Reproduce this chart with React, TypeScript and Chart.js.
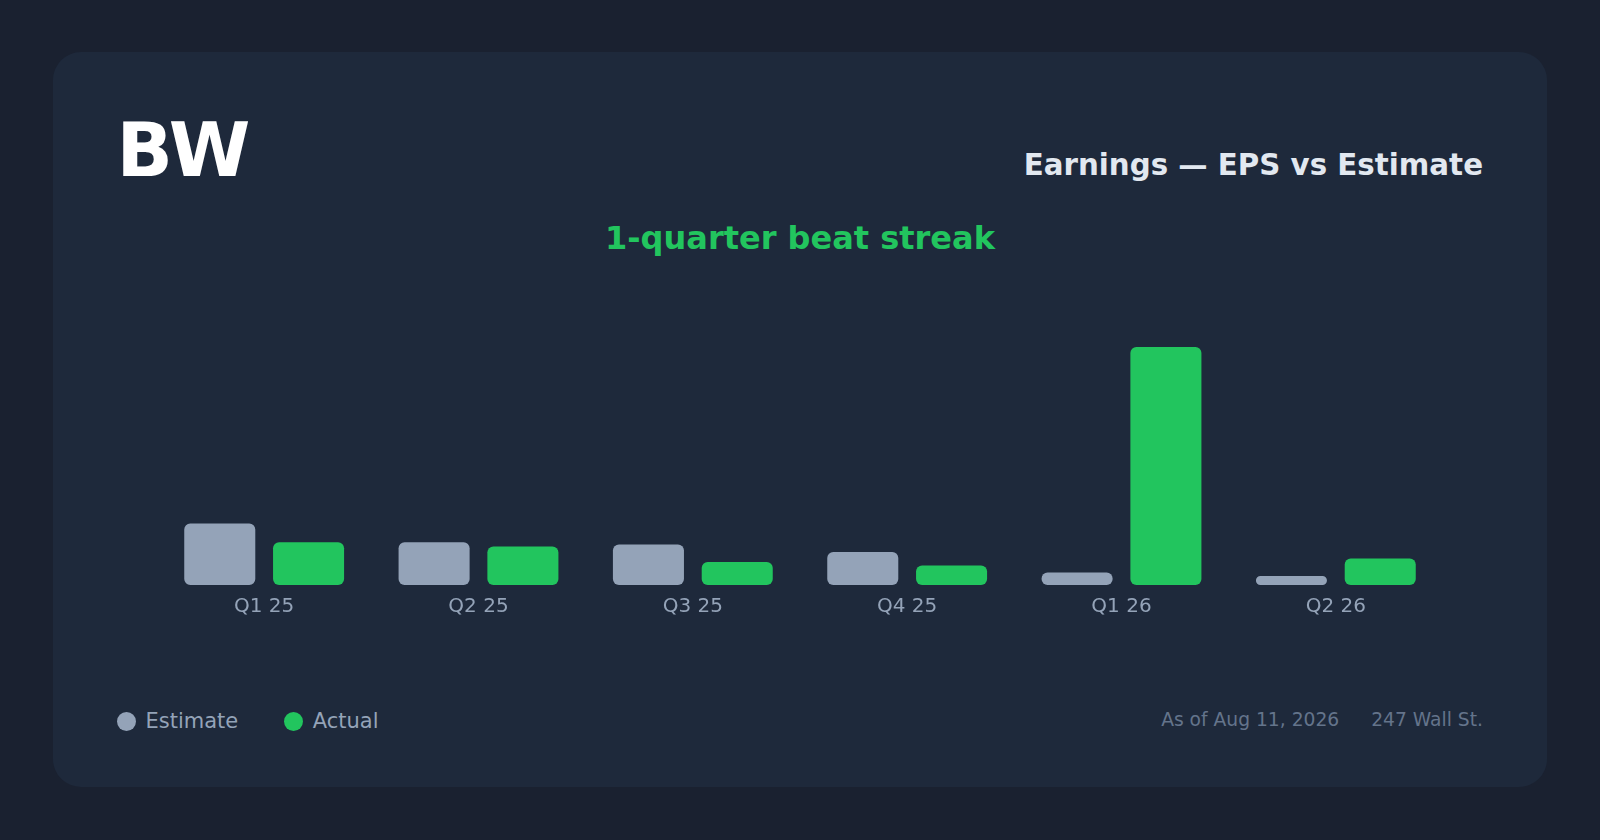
import React, { useEffect, useRef } from "react";
import { Chart, registerables } from "chart.js";

Chart.register(...registerables);

const categories = ["Q1 25", "Q2 25", "Q3 25", "Q4 25", "Q1 26", "Q2 26"];
const estimateValues = [0.088, 0.061, 0.058, 0.047, 0.018, 0.013];
const actualValues = [0.061, 0.055, 0.033, 0.028, 0.34, 0.038];
const seriesNames = ["Estimate", "Actual"];
const seriesColors = ["#94a3b8", "#22c55e"];
const ticker = "BW";
const title = "Earnings — EPS vs Estimate";
const subtitle = "1-quarter beat streak";
const footerItems = ["As of Aug 11, 2026", "247 Wall St."];
const yMin = 0;
const yMax = 0.4;

const FONT = "'DejaVu Sans', Verdana, sans-serif";

export default function App() {
  const ref = useRef<HTMLCanvasElement>(null);

  useEffect(() => {
    if (!ref.current) return;
    const seriesValues = [estimateValues, actualValues];
    const chart = new Chart(ref.current, {
      type: "bar",
      data: {
        labels: categories,
        datasets: seriesNames.map((name, i) => ({
          label: name,
          data: seriesValues[i],
          backgroundColor: seriesColors[i],
          borderRadius: 6,
          borderSkipped: false,
          categoryPercentage: 0.8286,
          barPercentage: 0.8,
        })),
      },
      options: {
        responsive: false,
        animation: false,
        devicePixelRatio: 1,
        layout: { padding: 0 },
        plugins: {
          legend: { display: false },
          tooltip: { enabled: false },
          title: { display: false },
        },
        scales: {
          x: {
            grid: { display: false, drawTicks: false },
            border: { display: false },
            ticks: {
              color: "#94a3b8",
              font: { size: 20, family: FONT },
              padding: 10,
            },
          },
          y: { display: false, min: yMin, max: yMax },
        },
      },
    });
    return () => chart.destroy();
  }, []);

  return (
    <div
      style={{
        position: "fixed",
        inset: 0,
        width: 1600,
        height: 840,
        background: "#1a2130",
        fontFamily: FONT,
        overflow: "hidden",
      }}
    >
      <div
        style={{
          position: "absolute",
          left: 53,
          top: 52,
          width: 1494,
          height: 735,
          borderRadius: 28,
          background: "#1e293b",
        }}
      />
      <div
        style={{
          position: "absolute",
          left: 116.5,
          top: 113,
          fontSize: 74,
          lineHeight: "74px",
          fontWeight: 700,
          color: "#ffffff",
          whiteSpace: "nowrap",
        }}
      >
        {ticker}
      </div>
      <div
        style={{
          position: "absolute",
          right: 117,
          top: 150.5,
          fontSize: 29.3,
          lineHeight: "29.3px",
          fontWeight: 700,
          color: "#e2e8f0",
          whiteSpace: "nowrap",
        }}
      >
        {title}
      </div>
      <div
        style={{
          position: "absolute",
          left: 0,
          width: 1600,
          textAlign: "center",
          top: 222,
          fontSize: 32,
          lineHeight: "32px",
          fontWeight: 700,
          color: "#22c55e",
          whiteSpace: "nowrap",
        }}
      >
        {subtitle}
      </div>
      <canvas
        ref={ref}
        width={1286}
        height={324}
        style={{ position: "absolute", left: 157, top: 305, width: 1286, height: 324 }}
      />
      <div
        style={{
          position: "absolute",
          left: 117,
          top: 711,
          display: "flex",
          alignItems: "center",
          height: 21,
          fontSize: 21,
          lineHeight: "21px",
          color: "#94a3b8",
          whiteSpace: "nowrap",
        }}
      >
        {seriesNames.map((name, i) => (
          <div
            key={name}
            style={{ display: "flex", alignItems: "center", marginRight: i === 0 ? 46 : 0 }}
          >
            <span
              style={{
                display: "inline-block",
                width: 18.5,
                height: 18.5,
                borderRadius: 10,
                background: seriesColors[i],
                marginRight: 10,
              }}
            />
            <span>{name}</span>
          </div>
        ))}
      </div>
      <div
        style={{
          position: "absolute",
          right: 117,
          top: 710.8,
          display: "flex",
          fontSize: 18.7,
          lineHeight: "18.7px",
          color: "#64748b",
          whiteSpace: "nowrap",
        }}
      >
        {footerItems.map((t, i) => (
          <span key={t} style={{ marginLeft: i === 0 ? 0 : 32 }}>
            {t}
          </span>
        ))}
      </div>
    </div>
  );
}
